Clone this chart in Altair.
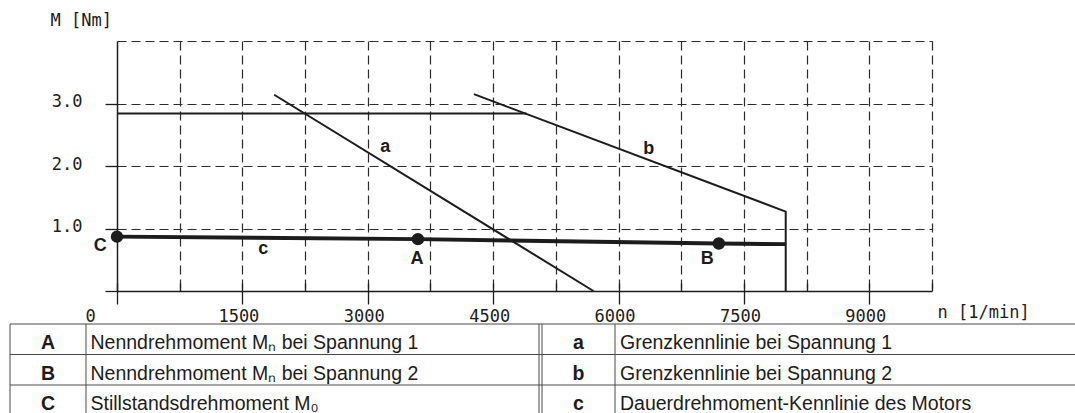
import altair as alt
import pandas as pd

INK = "#1c1c1c"
GRID_INK = "#2a2a2a"
RULE_INK = "#4a4a4a"
AXIS_FONT = "DejaVu Sans Mono"
TEXT_FONT = "Liberation Sans"

# ---- axes: speed n [1/min], torque M [Nm] ----
N_MAX = 9750
M_MAX = 4.0
n_grid = [750, 1500, 2250, 3000, 3750, 4500, 5250, 6000, 6750, 7500, 8250, 9000, 9750]
n_labels = [0, 1500, 3000, 4500, 6000, 7500, 9000]
n_minor = [750, 2250, 3750, 5250, 6750, 8250, 9750]
m_grid = [1, 2, 3, 4]
m_ticks = [0, 1, 2, 3]

# ---- characteristics ----
# a: limit characteristic at voltage 1
a_n = [1880, 5700]
a_m = [3.14, 0.0]
# b: limit characteristic at voltage 2, closed by the speed limit
b_n = [4270, 8000, 8000]
b_m = [3.15, 1.27, 0.0]
# peak torque plateau up to b
peak_n = [0, 4900]
peak_m = [2.84, 2.84]
# c: continuous torque characteristic
c_n = [0, 3600, 7200, 8000]
c_m = [0.87, 0.83, 0.76, 0.75]

# operating points
pt_key = ["C", "A", "B"]
pt_n = [0, 3600, 7200]
pt_m = [0.87, 0.83, 0.76]

# letters next to curves and points
lbl_text = ["a", "b", "c", "C", "A", "B"]
lbl_n = [3210, 6360, 1750, -200, 3590, 7060]
lbl_m = [2.31, 2.28, 0.67, 0.72, 0.51, 0.51]

# ---- key table ----
keys_left = ["A", "B", "C"]
desc_left = [
    "Nenndrehmoment Mₙ bei Spannung 1",
    "Nenndrehmoment Mₙ bei Spannung 2",
    "Stillstandsdrehmoment M₀",
]
keys_right = ["a", "b", "c"]
desc_right = [
    "Grenzkennlinie bei Spannung 1",
    "Grenzkennlinie bei Spannung 2",
    "Dauerdrehmoment-Kennlinie des Motors",
]

# table layout (pixel units across the table, rows as units)
TABLE_W = 1065
col_edges = [0, 76, 529, 532, 605]
key_x = {"left": 38, "right": 568.5}
desc_x = {"left": 80.5, "right": 610}

W, H = 815, 250

xs = alt.Scale(domain=[0, N_MAX], nice=False, zero=False)
ys = alt.Scale(domain=[0, M_MAX], nice=False, zero=False)

frame = pd.DataFrame({"n": [0, N_MAX], "M": [0, M_MAX]})

grid_kw = dict(grid=True, gridDash=[9, 5], gridColor=GRID_INK, gridWidth=1.2,
               ticks=False, labels=False, domain=False, title=None)

grid = alt.Chart(frame).mark_point(opacity=0).encode(
    x=alt.X("n:Q", scale=xs, axis=alt.Axis(orient="bottom", values=n_grid, **grid_kw)),
    y=alt.Y("M:Q", scale=ys, axis=alt.Axis(orient="left", values=m_grid, **grid_kw)),
)

main_axes = alt.Chart(frame).mark_point(opacity=0).encode(
    x=alt.X("n:Q", scale=xs, axis=alt.Axis(
        orient="bottom", values=n_labels, format="d",
        grid=False, ticks=False, domain=True,
        domainColor=INK, domainWidth=1.5,
        labels=True, labelFont=AXIS_FONT, labelFontSize=17, labelColor=INK,
        labelPadding=17, labelFlush=False, labelOverlap=False,
        labelOffset={"condition": {"test": "datum.value == 0", "value": -27}, "value": -4},
        title="n [1/min]", titleFont=AXIS_FONT, titleFontSize=17,
        titleFontWeight="normal", titleColor=INK, titleAngle=0,
        titleAlign="left", titleBaseline="middle", titleX=820, titleY=21,
    )),
    y=alt.Y("M:Q", scale=ys, axis=alt.Axis(
        orient="left", values=m_ticks, grid=False, ticks=True, tickSize=12, tickWidth=1.3,
        tickColor=INK, domain=True, domainColor=INK, domainWidth=1.5,
        labels=True, labelExpr="datum.value == 0 ? '' : format(datum.value, '.1f')",
        labelFont=AXIS_FONT, labelFontSize=17, labelColor=INK,
        labelPadding=23, labelOffset=-2,
        title="M  [Nm]", titleFont=AXIS_FONT, titleFontSize=17,
        titleFontWeight="normal", titleColor=INK, titleAngle=0,
        titleAlign="left", titleBaseline="middle", titleX=-67, titleY=-21,
    )),
)

tick_kw = dict(orient="bottom", grid=False, labels=False, domain=False, title=None,
               ticks=True, tickColor=INK, tickWidth=1.3, offset=-8)

major_ticks = alt.Chart(frame).mark_point(opacity=0).encode(
    x=alt.X("n:Q", scale=xs, axis=alt.Axis(values=n_labels, tickSize=21, **tick_kw)),
    y=alt.Y("M:Q", scale=ys, axis=None),
)
minor_ticks = alt.Chart(frame).mark_point(opacity=0).encode(
    x=alt.X("n:Q", scale=xs, axis=alt.Axis(values=n_minor, tickSize=8, **tick_kw)),
    y=alt.Y("M:Q", scale=ys, axis=None),
)

thin_rows = []
for name, ns, ms in [("a", a_n, a_m), ("b", b_n, b_m), ("peak", peak_n, peak_m)]:
    for i, (n, m) in enumerate(zip(ns, ms)):
        thin_rows.append({"series": name, "idx": i, "n": n, "M": m})
thin_df = pd.DataFrame(thin_rows)
c_df = pd.DataFrame({"idx": range(len(c_n)), "n": c_n, "M": c_m})
pt_df = pd.DataFrame({"key": pt_key, "n": pt_n, "M": pt_m})
lbl_df = pd.DataFrame({"t": lbl_text, "n": lbl_n, "M": lbl_m})


def xy():
    return dict(x=alt.X("n:Q", scale=xs, axis=None), y=alt.Y("M:Q", scale=ys, axis=None))


thin = alt.Chart(thin_df).mark_line(color=INK, strokeWidth=2).encode(
    detail="series:N", order="idx:Q", **xy())
thick = alt.Chart(c_df).mark_line(color=INK, strokeWidth=4).encode(order="idx:Q", **xy())
points = alt.Chart(pt_df).mark_circle(size=154, color=INK, opacity=1).encode(**xy())
letters = alt.Chart(lbl_df).mark_text(
    font=TEXT_FONT, fontSize=18, fontWeight="bold", color=INK, baseline="middle"
).encode(text="t:N", **xy())

plot = alt.layer(grid, main_axes, major_ticks, minor_ticks, thin, thick, points, letters
                 ).resolve_axis(x="independent", y="independent")

# ---- key table ----
tx = alt.Scale(domain=[0, TABLE_W], range=[-107, 958], nice=False, zero=False)
ty = alt.Scale(domain=[0, 3], range=[283, 374.5], nice=False, zero=False)

h_df = pd.DataFrame({"x": [0, 0, 0, 0], "x2": [TABLE_W] * 4, "y": [0, 1, 2, 3]})
v_df = pd.DataFrame({"x": col_edges, "y": [0] * len(col_edges), "y2": [3] * len(col_edges)})

cells = []
for side, keys, descs in [("left", keys_left, desc_left), ("right", keys_right, desc_right)]:
    for r, (k, d) in enumerate(zip(keys, descs)):
        cells.append({"kx": key_x[side], "dx": desc_x[side], "row": r + 0.5, "key": k, "desc": d})
cell_df = pd.DataFrame(cells)

h_rules = alt.Chart(h_df).mark_rule(color=RULE_INK, strokeWidth=1).encode(
    x=alt.X("x:Q", scale=tx, axis=None), x2="x2:Q",
    y=alt.Y("y:Q", scale=ty, axis=None))
v_rules = alt.Chart(v_df).mark_rule(color=RULE_INK, strokeWidth=1).encode(
    x=alt.X("x:Q", scale=tx, axis=None),
    y=alt.Y("y:Q", scale=ty, axis=None), y2="y2:Q")
key_text = alt.Chart(cell_df).mark_text(
    font=TEXT_FONT, fontSize=19.5, fontWeight="bold", color=INK, baseline="middle", dy=4
).encode(x=alt.X("kx:Q", scale=tx, axis=None), y=alt.Y("row:Q", scale=ty, axis=None), text="key:N")
desc_text = alt.Chart(cell_df).mark_text(
    font=TEXT_FONT, fontSize=19.5, color=INK, baseline="middle", align="left", dy=4
).encode(x=alt.X("dx:Q", scale=tx, axis=None), y=alt.Y("row:Q", scale=ty, axis=None), text="desc:N")

table = alt.layer(h_rules, v_rules, key_text, desc_text)

chart = alt.layer(plot, table).resolve_scale(x="independent", y="independent").properties(
    width=W, height=H,
    autosize=alt.AutoSizeParams(type="none"),
    padding={"left": 117, "top": 41, "right": 143, "bottom": 122},
    background="white",
).configure_view(strokeWidth=0)

chart.save("out.html", embed_options={"renderer": "svg", "actions": False})
